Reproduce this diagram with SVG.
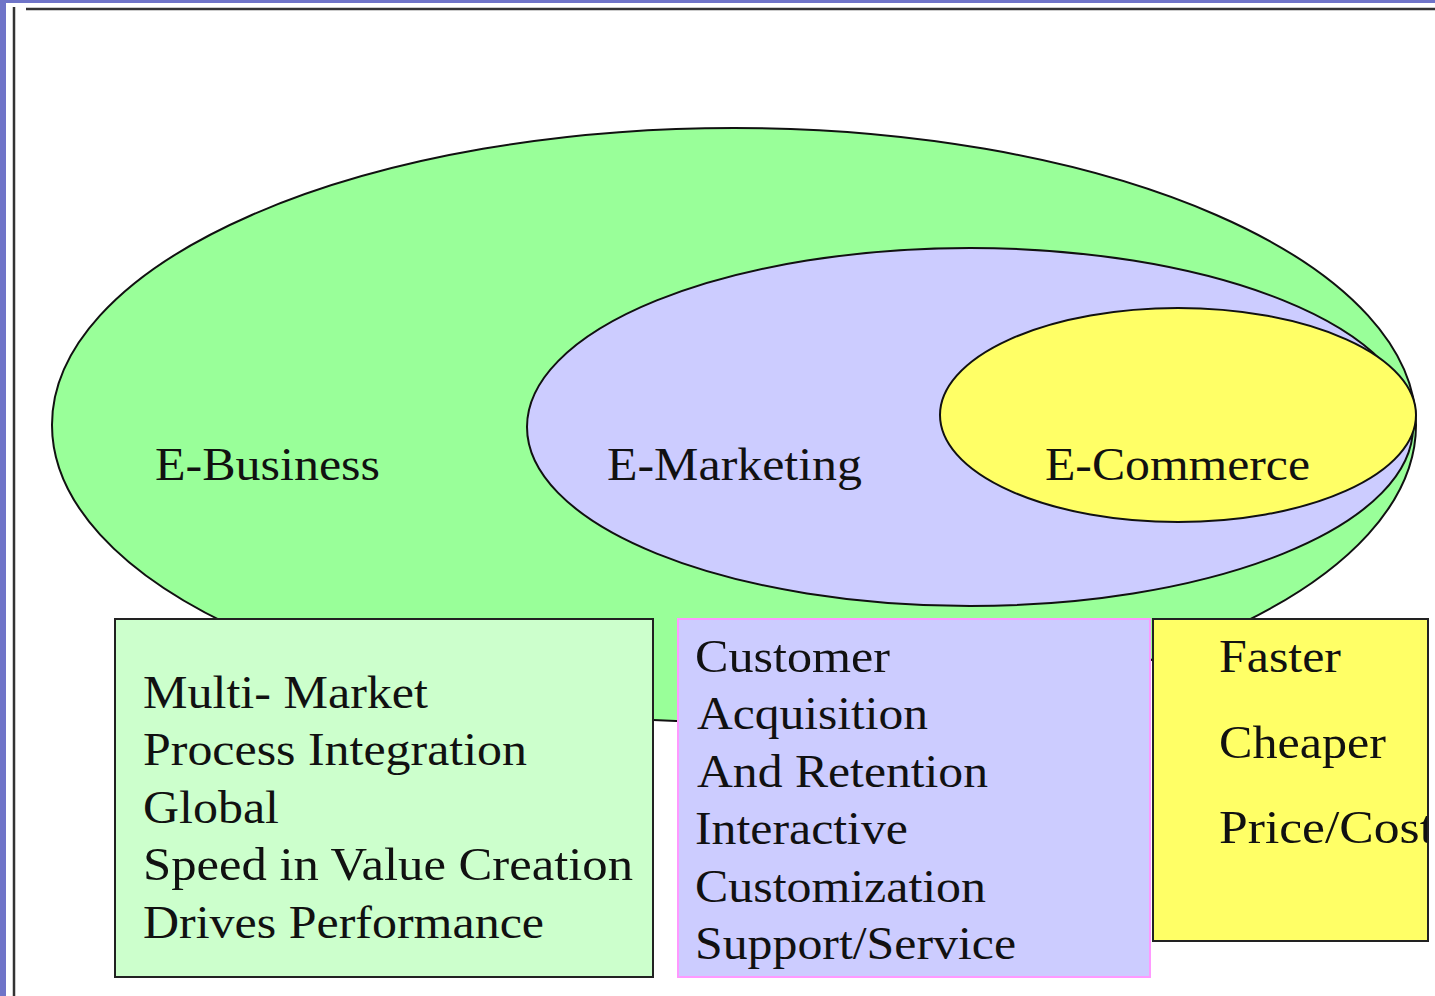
<svg xmlns="http://www.w3.org/2000/svg" width="1435" height="996" viewBox="0 0 1435 996">
<defs>
<style>
.t{font-family:"Liberation Serif","Times New Roman",serif;font-size:46px;fill:#111;}
.ell{stroke:#111;stroke-width:2;}
.box{stroke:#222;stroke-width:2;}
</style>
<clipPath id="ybox"><rect x="1153" y="619" width="275" height="322"/></clipPath>
</defs>
<rect x="0" y="0" width="1435" height="996" fill="#6f74c8"/>
<rect x="6" y="3" width="1429" height="993" fill="#ffffff"/>
<line x1="14" y1="7" x2="14" y2="996" stroke="#333" stroke-width="2.5"/>
<line x1="26" y1="9" x2="1435" y2="9" stroke="#333" stroke-width="2.5"/>

<g id="e-business">
<ellipse class="ell" cx="734" cy="425" rx="682" ry="297" fill="#99ff99"/>
<text class="t" x="155" y="480" textLength="225" lengthAdjust="spacingAndGlyphs">E-Business</text>
</g>
<g id="e-marketing">
<ellipse class="ell" cx="970" cy="427" rx="443" ry="179" fill="#ccccff"/>
<text class="t" x="607" y="480" textLength="255" lengthAdjust="spacingAndGlyphs">E-Marketing</text>
</g>
<g id="e-commerce">
<ellipse class="ell" cx="1178" cy="415" rx="238" ry="107" fill="#ffff66"/>
<text class="t" x="1045" y="480" textLength="265" lengthAdjust="spacingAndGlyphs">E-Commerce</text>
</g>

<g id="box-business">
<rect class="box" x="115" y="619" width="538" height="358" fill="#ccffcc"/>
<text class="t" x="143" y="708" textLength="285" lengthAdjust="spacingAndGlyphs">Multi- Market</text>
<text class="t" x="143" y="765" textLength="384" lengthAdjust="spacingAndGlyphs">Process Integration</text>
<text class="t" x="143" y="823" textLength="136" lengthAdjust="spacingAndGlyphs">Global</text>
<text class="t" x="143" y="880" textLength="490" lengthAdjust="spacingAndGlyphs">Speed in Value Creation</text>
<text class="t" x="143" y="938" textLength="401" lengthAdjust="spacingAndGlyphs">Drives Performance</text>
</g>

<g id="box-marketing">
<rect x="678" y="619" width="472" height="358" fill="#ccccff" stroke="#ff99ff" stroke-width="2"/>
<text class="t" x="695" y="672" textLength="195" lengthAdjust="spacingAndGlyphs">Customer</text>
<text class="t" x="697" y="729" textLength="231" lengthAdjust="spacingAndGlyphs">Acquisition</text>
<text class="t" x="697" y="787" textLength="291" lengthAdjust="spacingAndGlyphs">And Retention</text>
<text class="t" x="695" y="844" textLength="213" lengthAdjust="spacingAndGlyphs">Interactive</text>
<text class="t" x="695" y="902" textLength="291" lengthAdjust="spacingAndGlyphs">Customization</text>
<text class="t" x="695" y="959" textLength="321" lengthAdjust="spacingAndGlyphs">Support/Service</text>
</g>

<g id="box-commerce">
<rect class="box" x="1153" y="619" width="275" height="322" fill="#ffff66"/>
<g clip-path="url(#ybox)">
<text class="t" x="1219" y="672" textLength="122" lengthAdjust="spacingAndGlyphs">Faster</text>
<text class="t" x="1219" y="758" textLength="167" lengthAdjust="spacingAndGlyphs">Cheaper</text>
<text class="t" x="1219" y="843" textLength="215" lengthAdjust="spacingAndGlyphs">Price/Cost</text>
</g>
<rect x="1153" y="619" width="275" height="322" fill="none" stroke="#222" stroke-width="2"/>
</g>
<g id="connectors"/>
</svg>
